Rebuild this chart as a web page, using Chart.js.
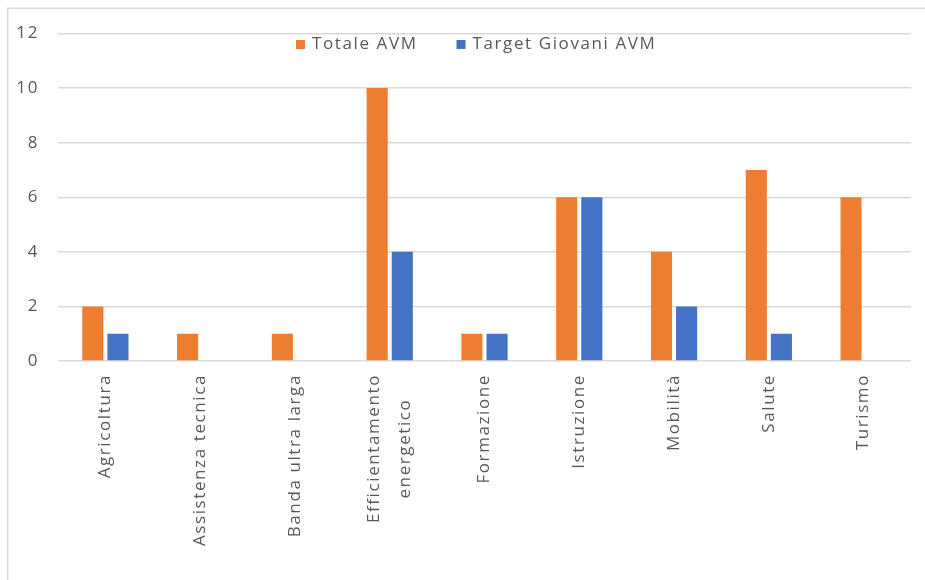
<!DOCTYPE html>
<html>
<head>
<meta charset="utf-8">
<script src="https://cdn.jsdelivr.net/npm/chart.js@4.4.1/dist/chart.umd.min.js"></script>
<style>
  html, body { margin: 0; padding: 0; background: #ffffff; }
  #wrap { width: 925px; height: 580px; position: relative; }
</style>
</head>
<body>
<div id="wrap"><canvas id="chart" width="925" height="580"></canvas></div>
<script>
// Progetti per ambito: totale AVM e quota rivolta ai giovani
const categories = [
  'Agricoltura',
  'Assistenza tecnica',
  'Banda ultra larga',
  ['Efficientamento', 'energetico'],
  'Formazione',
  'Istruzione',
  'Mobilità',
  'Salute',
  'Turismo'
];
const totaleAVM = [2, 1, 1, 10, 1, 6, 4, 7, 6];
const targetGiovaniAVM = [1, 0, 0, 4, 1, 6, 2, 1, 0];
const yTicks = [0, 2, 4, 6, 8, 10, 12];

const ORANGE = '#ED7D31';
const BLUE = '#4472C4';
const TEXT = '#595959';
const GRID = '#d9d9d9';
const FONT = '"Open Sans", sans-serif';
const SPACING = '1.6px';
const X_LINE_HEIGHT = 1.82;

// wider tracking for all canvas text
const trackingPlugin = {
  id: 'tracking',
  beforeUpdate(chart) { chart.ctx.letterSpacing = SPACING; },
  beforeDraw(chart) { chart.ctx.letterSpacing = SPACING; }
};

// thin frame on the left and top edges
const framePlugin = {
  id: 'frame',
  beforeDraw(chart) {
    const ctx = chart.ctx;
    ctx.save();
    ctx.strokeStyle = GRID;
    ctx.lineWidth = 1.5;
    ctx.beginPath();
    ctx.moveTo(chart.width, 8.25);
    ctx.lineTo(7.75, 8.25);
    ctx.lineTo(7.75, chart.height);
    ctx.stroke();
    ctx.restore();
  }
};

// center wrapped category labels on their tick, lines centered on each other
const wrappedLabelPlugin = {
  id: 'wrappedLabels',
  beforeDraw(chart) {
    const scale = chart.scales.x;
    const items = scale.getLabelItems();
    const ctx = chart.ctx;
    const tickFont = Chart.helpers.toFont(scale.options.ticks.font);
    ctx.save();
    ctx.letterSpacing = SPACING;
    items.forEach((item) => {
      if (!Array.isArray(item.label) || item._centered) return;
      const font = item.font || tickFont;
      ctx.font = font.string;
      const widest = Math.max(...item.label.map(l => ctx.measureText(l).width));
      const lh = font.lineHeight;
      item.options.translation[0] -= (item.label.length - 1) * lh / 2;
      item.options.translation[1] += widest / 2;
      item.options.textAlign = 'center';
      item._centered = true;
    });
    ctx.restore();
  }
};

// legend drawn inside the plot area, below the top gridline
const innerLegendPlugin = {
  id: 'innerLegend',
  afterDraw(chart, args, opts) {
    const ctx = chart.ctx;
    ctx.save();
    ctx.letterSpacing = SPACING;
    ctx.font = '17px ' + FONT;
    ctx.textBaseline = 'middle';
    ctx.textAlign = 'left';
    let x = opts.x;
    const y = opts.y;
    chart.data.datasets.forEach((ds) => {
      ctx.fillStyle = ds.backgroundColor;
      ctx.fillRect(x, y - 4.5, 9, 9);
      x += 9 + 7;
      ctx.fillStyle = TEXT;
      ctx.fillText(ds.label, x, y);
      x += ctx.measureText(ds.label).width + opts.gap;
    });
    ctx.restore();
  }
};

new Chart(document.getElementById('chart'), {
  type: 'bar',
  data: {
    labels: categories,
    datasets: [
      { label: 'Totale AVM', data: totaleAVM, backgroundColor: ORANGE },
      { label: 'Target Giovani AVM', data: targetGiovaniAVM, backgroundColor: BLUE }
    ]
  },
  options: {
    responsive: false,
    animation: false,
    devicePixelRatio: 1,
    categoryPercentage: 0.53,
    barPercentage: 0.84,
    layout: { padding: { left: 8, top: 33.5, right: 14, bottom: 0 } },
    font: { family: FONT, size: 17 },
    plugins: {
      legend: { display: false },
      tooltip: { enabled: false },
      innerLegend: { x: 296, y: 44.5, gap: 39 }
    },
    scales: {
      x: {
        grid: { display: false, drawTicks: false },
        border: { display: false },
        ticks: {
          color: TEXT,
          font: { family: FONT, size: 17, lineHeight: X_LINE_HEIGHT },
          minRotation: 90,
          maxRotation: 90,
          autoSkip: false,
          padding: 13
        },
        afterFit(scale) { scale.height = 219; }
      },
      y: {
        min: 0,
        max: 12,
        afterBuildTicks(scale) { scale.ticks = yTicks.map(v => ({ value: v })); },
        grid: { color: GRID, lineWidth: 1.5, drawTicks: false },
        border: { display: false },
        ticks: {
          color: TEXT,
          font: { family: FONT, size: 17 },
          padding: 19
        },
        afterFit(scale) { scale.width = 50; }
      }
    }
  },
  plugins: [trackingPlugin, framePlugin, wrappedLabelPlugin, innerLegendPlugin]
});
</script>
</body>
</html>
